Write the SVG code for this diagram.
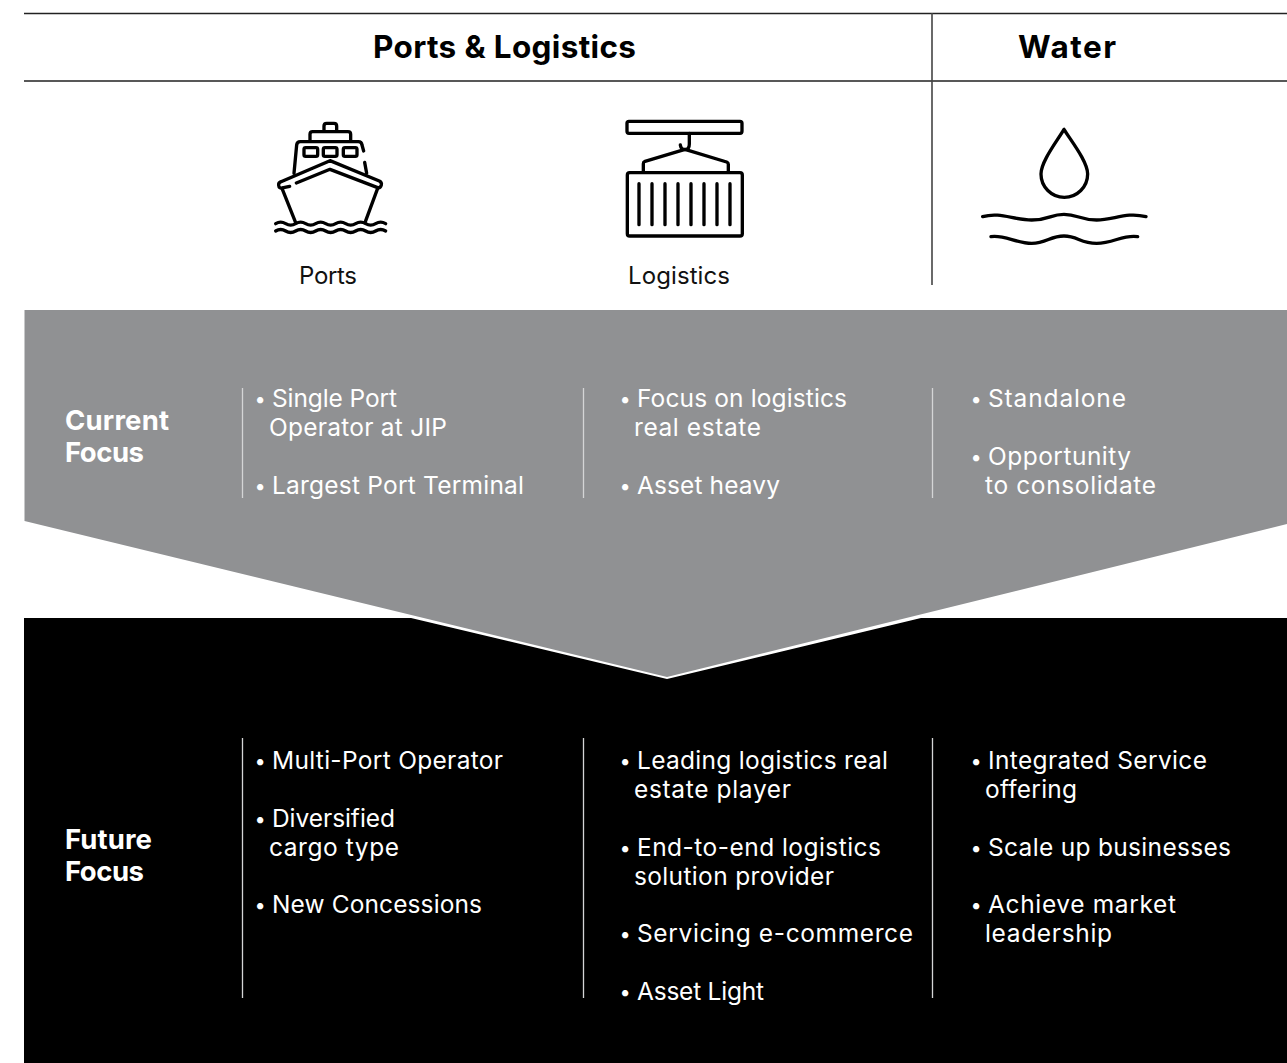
<svg xmlns="http://www.w3.org/2000/svg" width="1287" height="1063" viewBox="0 0 1287 1063">
<style>
text{font-family:Inter,"Liberation Sans",sans-serif}
.h{font-size:31.500px;font-weight:700;fill:#000}
.l{font-size:24px;fill:#111}
.t{font-size:24.500px;fill:#fff}
.u{font-size:20px;fill:#fff}
.b{font-size:27.500px;font-weight:700;fill:#fff}
.ic{fill:none;stroke:#000;stroke-width:10;stroke-linecap:round;stroke-linejoin:round}
.d{stroke:#d4d5d6;stroke-width:1.3}
</style>
<rect width="1287" height="1063" fill="#fff"/>
<g id="panels">
<path d="M24 618H1287V1063H24Z" fill="#000"/>
<polygon points="411,618 667,679 921,618 900,618 667,675 430,618" fill="#fff"/>
<polygon points="24.500,310 1287,310 1287,524 667,677 24.500,521" fill="#909193"/>
</g>
<g id="connectors">
<path d="M24 13.500H1287M24 81H1287" stroke="#222" stroke-width="1.400" fill="none"/>
<path d="M932 13V285" stroke="#444" stroke-width="1.600" fill="none"/>
<path class="d" d="M242.500 388V498M583.500 388V498M932.500 388V498M242.500 738V998M583.500 738V998M932.500 738V998"/>
</g>
<g id="header-ports"><text class="h" x="373" y="58" textLength="263">Ports &amp; Logistics</text></g>
<g id="header-water"><text class="h" x="1018" y="58" textLength="98">Water</text></g>
<g id="ports-node">
<g class="ic" transform="translate(250 100) scale(.3333)">
<path d="M222 92V78q0-8 8-8h22q8 0 8 8v14"/>
<path d="M180 120V103q0-8 8-8H294q8 0 8 8v17"/>
<path d="M132 220L140 135q1-10 11-10H325q10 0 11 10l5 18M344 187l6 33"/>
<rect x="162" y="143" width="41" height="26" rx="5"/>
<rect x="220" y="143" width="41" height="26" rx="5"/>
<rect x="280" y="143" width="41" height="26" rx="5"/>
<path d="M119 259L97 264q-10 2-11-8q-1-8 7-11L240 182L388 243q8 4 6 12q-3 10-11 8L240 208L139 249"/>
<path d="M96 265L137 368M383 265L345 368"/>
<path d="M77 371q15-9 30 0t30 0t30 0t30 0t30 0t30 0t30 0t30 0t30 0t30 0t30 0"/>
<path d="M77 393q15-9 30 0t30 0t30 0t30 0t30 0t30 0t30 0t30 0t30 0t30 0t30 0"/>
</g>
<text class="l" x="299" y="284" textLength="58">Ports</text>
</g>
<g id="logistics-node">
<g class="ic" transform="translate(600 100) scale(.3333)">
<rect x="81" y="64" width="345" height="36" rx="6"/>
<path d="M268 100V132q0 17-13 17q-12 0-14-14"/>
<path d="M130 214V191q0-5 5-7L255 148L380 186q5 2 5 7V214"/>
<rect x="82" y="218" width="345" height="190" rx="7"/>
<path d="M117 251V374M156 251V374M195 251V374M234 251V374M273 251V374M312 251V374M351 251V374M390 251V374"/>
</g>
<text class="l" x="628" y="284" textLength="102">Logistics</text>
</g>
<g id="water-node">
<g class="ic" transform="translate(920 100) scale(.3333)">
<path d="M432 88C410 125 363 185 363 222A69 69 0 0 0 503 222C503 185 455 125 432 88Z"/>
<path d="M188 350C240 335 280 360 335 360S390 343 432 343S480 360 530 360S620 335 678 350"/>
<path d="M213 410C250 403 290 430 335 430S390 408 432 408S480 430 530 430S610 403 653 410"/>
</g>
</g>
<g id="current-focus">
<text class="b" x="65" y="430" textLength="104">Current</text>
<text class="b" x="65" y="462" textLength="79">Focus</text>
</g>
<g id="current-ports">
<text class="u" x="254.500" y="406">•</text><text class="t" x="272" y="407" textLength="125">Single Port</text>
<text class="t" x="269" y="436" textLength="178">Operator at JIP</text>
<text class="u" x="254.500" y="493">•</text><text class="t" x="272" y="494" textLength="252">Largest Port Terminal</text>
</g>
<g id="current-logistics">
<text class="u" x="619.500" y="406">•</text><text class="t" x="637" y="407" textLength="210">Focus on logistics</text>
<text class="t" x="634" y="436" textLength="127">real estate</text>
<text class="u" x="619.500" y="493">•</text><text class="t" x="637" y="494" textLength="143">Asset heavy</text>
</g>
<g id="current-water">
<text class="u" x="970.500" y="406">•</text><text class="t" x="988" y="407" textLength="138">Standalone</text>
<text class="u" x="970.500" y="464">•</text><text class="t" x="988" y="465" textLength="143">Opportunity</text>
<text class="t" x="985" y="494" textLength="171">to consolidate</text>
</g>
<g id="future-focus">
<text class="b" x="65" y="849" textLength="87">Future</text>
<text class="b" x="65" y="881" textLength="79">Focus</text>
</g>
<g id="future-ports">
<text class="u" x="254.500" y="768">•</text><text class="t" x="272" y="769" textLength="231">Multi-Port Operator</text>
<text class="u" x="254.500" y="826">•</text><text class="t" x="272" y="827" textLength="123">Diversified</text>
<text class="t" x="269" y="856" textLength="130">cargo type</text>
<text class="u" x="254.500" y="912">•</text><text class="t" x="272" y="913" textLength="210">New Concessions</text>
</g>
<g id="future-logistics">
<text class="u" x="619.500" y="768">•</text><text class="t" x="637" y="769" textLength="251">Leading logistics real</text>
<text class="t" x="634" y="798" textLength="157">estate player</text>
<text class="u" x="619.500" y="855">•</text><text class="t" x="637" y="856" textLength="244">End-to-end logistics</text>
<text class="t" x="634" y="885" textLength="200">solution provider</text>
<text class="u" x="619.500" y="941">•</text><text class="t" x="637" y="942" textLength="276">Servicing e-commerce</text>
<text class="u" x="619.500" y="999">•</text><text class="t" x="637" y="1000" textLength="127">Asset Light</text>
</g>
<g id="future-water">
<text class="u" x="970.500" y="768">•</text><text class="t" x="988" y="769" textLength="219">Integrated Service</text>
<text class="t" x="985" y="798" textLength="92">offering</text>
<text class="u" x="970.500" y="855">•</text><text class="t" x="988" y="856" textLength="243">Scale up businesses</text>
<text class="u" x="970.500" y="912">•</text><text class="t" x="988" y="913" textLength="188">Achieve market</text>
<text class="t" x="985" y="942" textLength="127">leadership</text>
</g>
</svg>
